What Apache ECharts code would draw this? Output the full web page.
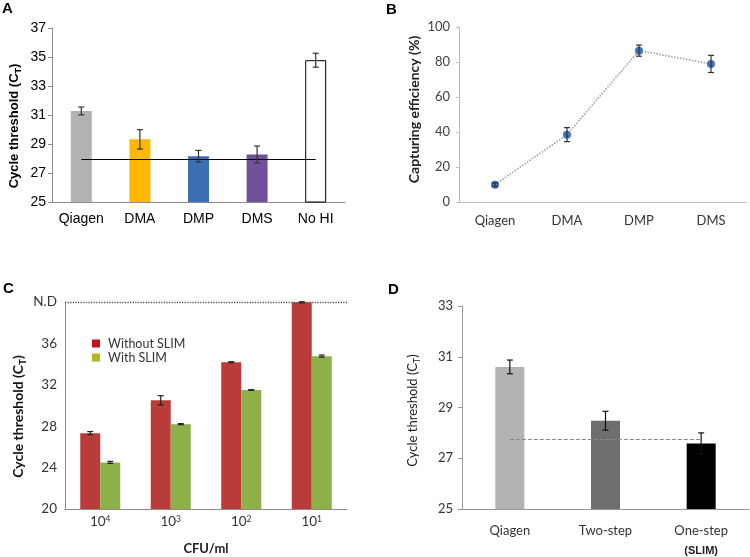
<!DOCTYPE html>
<html><head><meta charset="utf-8">
<script src="https://cdn.jsdelivr.net/npm/echarts@6/dist/echarts.min.js"></script>
<style>html,body{margin:0;padding:0;background:#fff}#c{width:750px;height:557px}</style>
</head><body><div id="c"></div>
<script>
// ---- Panel A ----
const catsA = ['Qiagen', 'DMA', 'DMP', 'DMS', 'No HI'];
const valsA = [31.28, 29.32, 28.16, 28.28, 34.78];
const errA = [0.27, 0.67, 0.40, 0.58, 0.48];
const refA = 27.93;
const yA = { min: 25, max: 37, interval: 2 };
// ---- Panel B ----
const catsB = ['Qiagen', 'DMA', 'DMP', 'DMS'];
const valsB = [9.9, 38.5, 86.5, 78.9];
const errB = [1.0, 4.0, 3.2, 4.9];
const yB = { min: 0, max: 100, interval: 20 };
// ---- Panel C ----
const catsC = ['10^4', '10^3', '10^2', '10^1'];
const withoutC = [27.33, 30.5, 34.18, 39.97];
const withoutErrC = [0.15, 0.45, 0.05, 0.05];
const withC = [24.5, 28.2, 31.5, 34.77];
const withErrC = [0.10, 0.05, 0.03, 0.10];
const ndValueC = 40;
const ndLabelC = 'N.D';
const yC = { min: 20, max: 40, interval: 4 };
// ---- Panel D ----
const catsD = ['Qiagen', 'Two-step', 'One-step (SLIM)'];
const valsD = [30.6, 28.48, 27.58];
const errD = [0.27, 0.37, 0.42];
const refD = 27.75;
const yD = { min: 25, max: 33, interval: 2 };

// styles
const colorsA = ['#b2b2b2', '#ffb800', '#3a70b3', '#72519b', '#ffffff'];
const colorsD = ['#b3b3b3', '#6e6e6e', '#000000'];
const arial = 'Liberation Sans';
const cal = 'Lato';

function errSeries(name, vals, errs, xi, dx, color, cap) {
  return {
    type: 'custom', name: name, xAxisIndex: xi, yAxisIndex: xi, z: 5,
    data: vals.map((v, i) => [i, v, errs[i]]),
    encode: { x: 0, y: 1 },
    renderItem: function (params, api) {
      const i = api.value(0), v = api.value(1), e = api.value(2);
      const t = api.coord([i, v + e]);
      const b = api.coord([i, v - e]);
      const x = t[0] + dx;
      const st = { stroke: color, lineWidth: 1.2 };
      return { type: 'group', children: [
        { type: 'line', shape: { x1: x, y1: t[1], x2: x, y2: b[1] }, style: st },
        { type: 'line', shape: { x1: x - cap, y1: t[1], x2: x + cap, y2: t[1] }, style: st },
        { type: 'line', shape: { x1: x - cap, y1: b[1], x2: x + cap, y2: b[1] }, style: st }
      ]};
    }
  };
}

const letterStyle = { fontFamily: arial, fontWeight: 'bold', fontSize: 15, color: '#000' };
const chart = echarts.init(document.getElementById('c'));
const option = {
  animation: false,
  backgroundColor: '#fff',
  title: [
    { text: 'A', left: 2, top: 1, padding: 0, textStyle: letterStyle },
    { text: 'B', left: 386, top: 2, padding: 0, textStyle: letterStyle },
    { text: 'C', left: 3, top: 281, padding: 0, textStyle: letterStyle },
    { text: 'D', left: 388, top: 282, padding: 0, textStyle: letterStyle }
  ],
  legend: {
    left: 87, top: 332, orient: 'vertical', icon: 'rect', itemWidth: 8, itemHeight: 8, itemGap: 1,
    textStyle: { fontFamily: cal, fontSize: 12.5, color: '#333', padding: [0, 0, 0, 3] },
    data: [
      { name: 'Without SLIM', itemStyle: { color: '#c0141c' } },
      { name: 'With SLIM', itemStyle: { color: '#b5b51e' } }
    ]
  },
  grid: [
    { left: 52, top: 28, width: 293, height: 174, outerBoundsMode: 'none' },
    { left: 459, top: 27, width: 288, height: 175, outerBoundsMode: 'none' },
    { left: 65, top: 302, width: 282, height: 207, outerBoundsMode: 'none' },
    { left: 462, top: 306, width: 287, height: 203, outerBoundsMode: 'none' }
  ],
  xAxis: [
    { gridIndex: 0, type: 'category', data: catsA,
      axisLine: { lineStyle: { color: '#8c8c8c' } }, axisTick: { length: 5, lineStyle: { color: '#8c8c8c' } },
      axisLabel: { interval: 0, fontFamily: arial, fontSize: 14, color: '#000', margin: 10 } },
    { gridIndex: 1, type: 'category', data: catsB,
      axisLine: { lineStyle: { color: '#bdbdbd' } }, axisTick: { length: 5, lineStyle: { color: '#bdbdbd' } },
      axisLabel: { interval: 0, fontFamily: cal, fontSize: 13, color: '#333', margin: 12 } },
    { gridIndex: 2, type: 'category', data: catsC,
      name: 'CFU/ml', nameLocation: 'middle', nameGap: 33,
      nameTextStyle: { fontFamily: cal, fontWeight: 'bold', fontSize: 13, color: '#222' },
      axisLine: { lineStyle: { color: '#8c8c8c' } }, axisTick: { length: 5, lineStyle: { color: '#8c8c8c' } },
      axisLabel: { interval: 0, fontFamily: cal, fontSize: 13.5, color: '#333', margin: 6,
        formatter: v => { const p = v.split('^'); return p[0] + '{sup|' + p[1] + '}'; },
        rich: { sup: { fontFamily: cal, fontSize: 8.5, color: '#333', verticalAlign: 'top', lineHeight: 14 } } } },
    { gridIndex: 3, type: 'category', data: catsD,
      axisLine: { lineStyle: { color: '#999' } }, axisTick: { length: 5, lineStyle: { color: '#999' } },
      axisLabel: { interval: 0, fontFamily: cal, fontSize: 13, color: '#333', margin: 12, lineHeight: 20,
        formatter: v => { const m = v.match(/^(.*) (\(.*\))$/); return m ? m[1] + '\n{b|' + m[2] + '}' : v; },
        rich: { b: { fontFamily: arial, fontWeight: 'bold', fontSize: 11, color: '#222', lineHeight: 20 } } } }
  ],
  yAxis: [
    { gridIndex: 0, type: 'value', min: yA.min, max: yA.max, interval: yA.interval, splitLine: { show: false },
      name: 'Cycle threshold (C{sub|T})', nameLocation: 'middle', nameRotate: 90, nameGap: 29,
      nameTextStyle: { fontFamily: arial, fontWeight: 'bold', fontSize: 13, color: '#000', lineHeight: 17, padding: [0, 22, 0, 0],
        rich: { sub: { fontFamily: arial, fontWeight: 'bold', fontSize: 9, color: '#000', verticalAlign: 'bottom', lineHeight: 17 } } },
      axisLine: { show: true, lineStyle: { color: '#8c8c8c' } }, axisTick: { show: true, length: 4, lineStyle: { color: '#8c8c8c' } },
      axisLabel: { fontFamily: arial, fontSize: 14, color: '#000', margin: 6 } },
    { gridIndex: 1, type: 'value', min: yB.min, max: yB.max, interval: yB.interval, splitLine: { show: false },
      name: 'Capturing efficiency (%)', nameLocation: 'middle', nameRotate: 90, nameGap: 38,
      nameTextStyle: { fontFamily: cal, fontWeight: 'bold', fontSize: 14, color: '#222', padding: [0, 0, 0, 10] },
      axisLine: { show: true, lineStyle: { color: '#bdbdbd' } }, axisTick: { show: true, length: 3, lineStyle: { color: '#bdbdbd' } },
      axisLabel: { fontFamily: cal, fontSize: 13, color: '#404040', margin: 9 } },
    { gridIndex: 2, type: 'value', min: yC.min, max: yC.max, interval: yC.interval, splitLine: { show: false },
      name: 'Cycle threshold (C{sub|T})', nameLocation: 'middle', nameRotate: 90, nameGap: 37,
      nameTextStyle: { fontFamily: cal, fontWeight: 'bold', fontSize: 14, color: '#111', lineHeight: 20, padding: [0, 22, 0, 0],
        rich: { sub: { fontFamily: cal, fontWeight: 'bold', fontSize: 10, color: '#111', verticalAlign: 'bottom', lineHeight: 20 } } },
      axisLine: { show: true, lineStyle: { color: '#8c8c8c' } }, axisTick: { show: false },
      axisLabel: { fontFamily: cal, fontSize: 13.5, color: '#333', margin: 8,
        formatter: v => v === ndValueC ? ndLabelC : String(v) } },
    { gridIndex: 3, type: 'value', min: yD.min, max: yD.max, interval: yD.interval, splitLine: { show: false },
      name: 'Cycle threshold (C{sub|T})', nameLocation: 'middle', nameRotate: 90, nameGap: 40,
      nameTextStyle: { fontFamily: cal, fontSize: 13, color: '#222', lineHeight: 18, padding: [0, 6, 0, 0],
        rich: { sub: { fontFamily: cal, fontSize: 9, color: '#222', verticalAlign: 'bottom', lineHeight: 18 } } },
      axisLine: { show: true, lineStyle: { color: '#999' } }, axisTick: { show: true, length: 4, lineStyle: { color: '#999' } },
      axisLabel: { fontFamily: cal, fontSize: 13, color: '#333', margin: 9 } }
  ],
  series: [
    { type: 'bar', name: 'A', xAxisIndex: 0, yAxisIndex: 0, barWidth: 21,
      data: valsA.map((v, i) => ({ value: v, itemStyle: { color: colorsA[i], borderColor: i === 4 ? '#000' : colorsA[i], borderWidth: i === 4 ? 1 : 0 } })),
      markLine: { silent: true, symbol: 'none', label: { show: false }, lineStyle: { color: '#000', width: 1.2, type: 'solid' },
        data: [[{ coord: [catsA[0], refA] }, { coord: [catsA[catsA.length - 1], refA] }]] } },
    errSeries('errA', valsA, errA, 0, 0, '#333', 3),
    { type: 'line', name: 'B', xAxisIndex: 1, yAxisIndex: 1, data: valsB, symbol: 'circle', symbolSize: 8,
      lineStyle: { color: '#9a9a9a', width: 1.5, type: 'dotted' }, itemStyle: { color: '#3f74b6' }, z: 4 },
    errSeries('errB', valsB, errB, 1, 0, '#333', 3),
    { type: 'bar', name: 'Without SLIM', xAxisIndex: 2, yAxisIndex: 2, barWidth: 20, barGap: '0%', data: withoutC,
      itemStyle: { color: '#b93c3b' },
      markLine: { silent: true, symbol: 'none', label: { show: false }, lineStyle: { color: '#555', width: 1.3, type: 'dotted' },
        data: [{ yAxis: ndValueC }] } },
    { type: 'bar', name: 'With SLIM', xAxisIndex: 2, yAxisIndex: 2, barWidth: 20, barGap: '0%', data: withC,
      itemStyle: { color: '#8db148' } },
    errSeries('errC1', withoutC, withoutErrC, 2, -10, '#222', 3),
    errSeries('errC2', withC, withErrC, 2, 10, '#222', 3),
    { type: 'bar', name: 'D', xAxisIndex: 3, yAxisIndex: 3, barWidth: 29,
      data: valsD.map((v, i) => ({ value: v, itemStyle: { color: colorsD[i] } })),
      markLine: { silent: true, symbol: 'none', label: { show: false }, lineStyle: { color: '#888', width: 1, type: 'dashed' },
        data: [[{ coord: [catsD[0], refD] }, { coord: [catsD[catsD.length - 1], refD] }]] } },
    errSeries('errD', valsD, errD, 3, 0, '#111', 3)
  ]
};
chart.setOption(option);
</script></body></html>
